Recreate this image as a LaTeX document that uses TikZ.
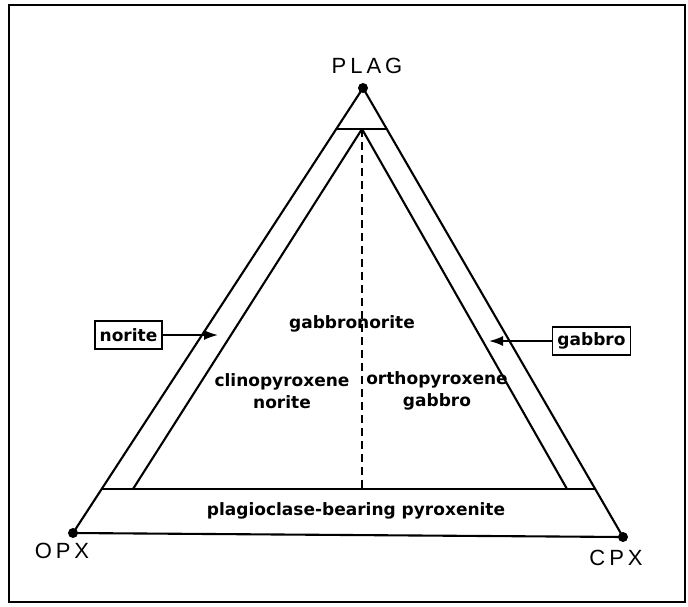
\documentclass[tikz,border=0pt]{standalone}
\usepackage{fontspec}
\setmainfont{DejaVu Sans}
\newfontfamily\cornerfont[LetterSpace=18]{Liberation Sans}
\usetikzlibrary{arrows.meta}
\begin{document}
\begin{tikzpicture}[x=1pt,y=-1pt,
  edge/.style={line width=2.1pt, line cap=round, line join=round},
  lbl/.style={font=\bfseries\fontsize{17}{22}\selectfont, align=center, inner sep=0pt},
  corner/.style={font=\cornerfont\fontsize{22}{25}\selectfont, inner sep=0pt},
  tagbox/.style={draw, line width=1.8pt, font=\bfseries\fontsize{17}{20}\selectfont, inner xsep=5pt, inner ysep=0pt, minimum height=28pt},
  vtx/.style={circle, fill, inner sep=0pt, minimum size=10pt},
  pointer/.style={line width=1.8pt, -{Latex[length=14pt,width=10pt]}}]
\useasboundingbox (0,0) rectangle (688,606);
\draw[line width=1.5pt] (9,5) rectangle (685,602);
% vertices
\coordinate (P) at (363,88);
\coordinate (O) at (73,533);
\coordinate (C) at (623,537);
% band top and inner triangle
\coordinate (Pl) at (336.3,129);
\coordinate (Pr) at (386.7,129);
\coordinate (I) at (362,129);
\coordinate (BL) at (101.6,489);
\coordinate (BR) at (594.8,489);
\coordinate (IL) at (133,489);
\coordinate (IR) at (567,489);
\coordinate (D) at (362,489);
% outer triangle
\draw[edge] (O) -- (P) -- (C) -- cycle;
\draw[edge] (Pl) -- (Pr);
\draw[edge] (BL) -- (BR);
\draw[edge] (IL) -- (I) -- (IR);
\draw[line width=2.1pt, dash pattern=on 8pt off 5pt] (I) -- (D);
\node[vtx] (vP) at (P) {};
\node[vtx] (vO) at (O) {};
\node[vtx] (vC) at (C) {};
% corner labels
\node[corner] (lP) at (367,66) {PLAG};
\node[corner] (lO) at (62,551) {OPX};
\node[corner] (lC) at (616,558) {CPX};
% field labels
\node[lbl] (gn) at (352,324) {gabbronorite};
\node[lbl] (cn) at (282,391) {clinopyroxene\\norite};
\node[lbl] (og) at (437,391) {orthopyroxene\\gabbro};
\node[lbl] (pp) at (356,511) {plagioclase-bearing pyroxenite};
% tag boxes and pointers
\node[tagbox] (nb) at (128.5,335) {norite};
\node[tagbox] (gb) at (591.5,341) {gabbro};
\coordinate (na) at (218,335);
\coordinate (ga) at (489,341);
\draw[pointer] (nb) -- (na);
\draw[pointer] (gb) -- (ga);
\end{tikzpicture}
\end{document}
